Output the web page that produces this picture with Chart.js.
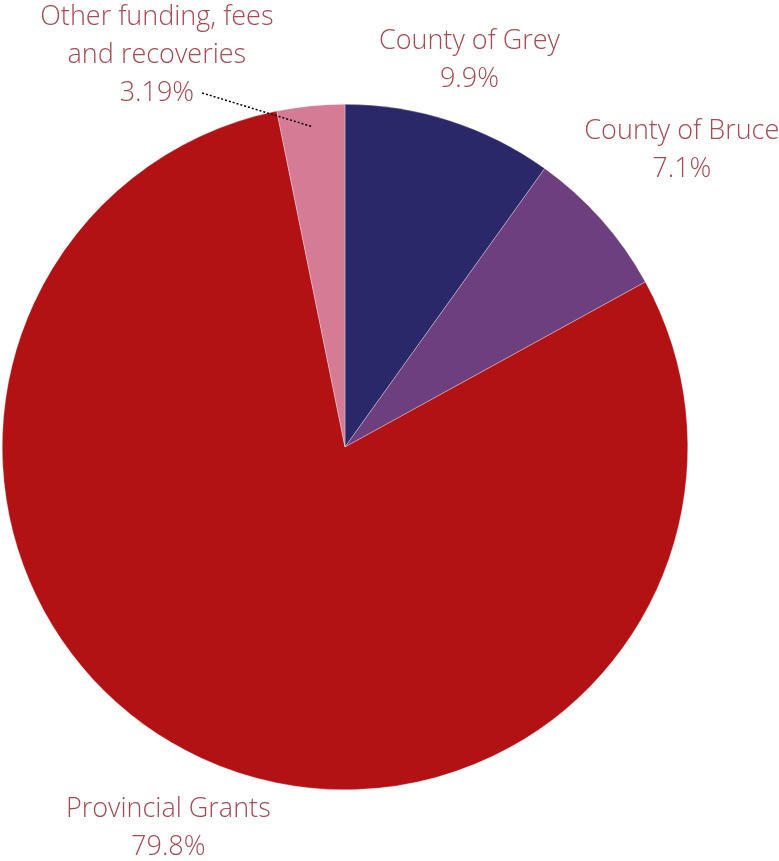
<!DOCTYPE html>
<html>
<head>
<meta charset="utf-8">
<script src="https://cdn.jsdelivr.net/npm/chart.js@4/dist/chart.umd.min.js"></script>
<style>
  html, body { margin: 0; padding: 0; background: #fff; }
  #wrap { width: 779px; height: 861px; }
</style>
</head>
<body>
<div id="wrap"><canvas id="pie-chart"></canvas></div>
<script>
const categories = [
  ['County of Grey'],
  ['County of Bruce'],
  ['Provincial Grants'],
  ['Other funding, fees', 'and recoveries']
]
const shares = [9.9, 7.1, 79.8, 3.19]
const shareLabels = ['9.9%', '7.1%', '79.8%', '3.19%']
const sliceColors = ['#2a2868', '#6e3f7e', '#b31215', '#d67b95']

// draws the category + value text outside each slice
const outsideLabels = {
  id: 'outsideLabels',
  afterDatasetsDraw(chart, args, opts) {
    const ctx = chart.ctx
    const meta = chart.getDatasetMeta(0)
    ctx.save()
    ctx.font = opts.font
    ctx.fillStyle = opts.color
    ctx.textAlign = 'center'
    ctx.textBaseline = 'middle'
    meta.data.forEach((arc, i) => {
      const lines = categories[i].concat([shareLabels[i]])
      const mid = (arc.startAngle + arc.endAngle) / 2
      const dx = Math.cos(mid), dy = Math.sin(mid)
      let w = 0
      lines.forEach(l => { w = Math.max(w, ctx.measureText(l).width) })
      const h = lines.length * opts.lineHeight
      const extra = Math.abs(dx) * w / 2 + Math.abs(dy) * h / 2 + opts.gap
      const shift = opts.shift[i] || [0, 0]
      const cx = arc.x + dx * (arc.outerRadius + extra) + shift[0]
      const cy = arc.y + dy * (arc.outerRadius + extra) + shift[1]
      lines.forEach((l, k) => {
        ctx.fillText(l, cx, cy - h / 2 + opts.lineHeight * (k + 0.5))
      })
      if (opts.leader[i]) {
        const last = ctx.measureText(shareLabels[i]).width
        const ly = cy - h / 2 + opts.lineHeight * (lines.length - 0.5)
        const r = arc.outerRadius - opts.leader[i]
        ctx.beginPath()
        ctx.setLineDash([2, 2])
        ctx.lineWidth = 1.5
        ctx.strokeStyle = '#000'
        ctx.moveTo(cx + last / 2 + 8, ly)
        ctx.lineTo(arc.x + dx * r, arc.y + dy * r)
        ctx.stroke()
        ctx.setLineDash([])
      }
    })
    ctx.restore()
  }
}

const piechartconfig = {
  type: 'pie',
  data: {
    labels: categories.map(c => c.join(' ')),
    datasets: [{
      data: shares,
      backgroundColor: sliceColors,
      borderColor: 'rgba(255,255,255,0.6)',
      borderWidth: 0.5
    }]
  },
  options: {
    responsive: true,
    maintainAspectRatio: false,
    animation: false,
    layout: {
      padding: { left: 2, right: 91, top: 104, bottom: 71 }
    },
    plugins: {
      legend: { display: false },
      tooltip: { enabled: false },
      outsideLabels: {
        font: '300 27px "Open Sans"',
        color: '#a84a52',
        lineHeight: 38,
        gap: 0,
        shift: { 1: [7, -4], 3: [-147, 17] },
        leader: { 3: 21 }
      }
    }
  },
  plugins: [outsideLabels]
}

const chartPieElement = document.getElementById('pie-chart').getContext('2d')
const chartPie = new Chart(chartPieElement, piechartconfig)
</script>
</body>
</html>
